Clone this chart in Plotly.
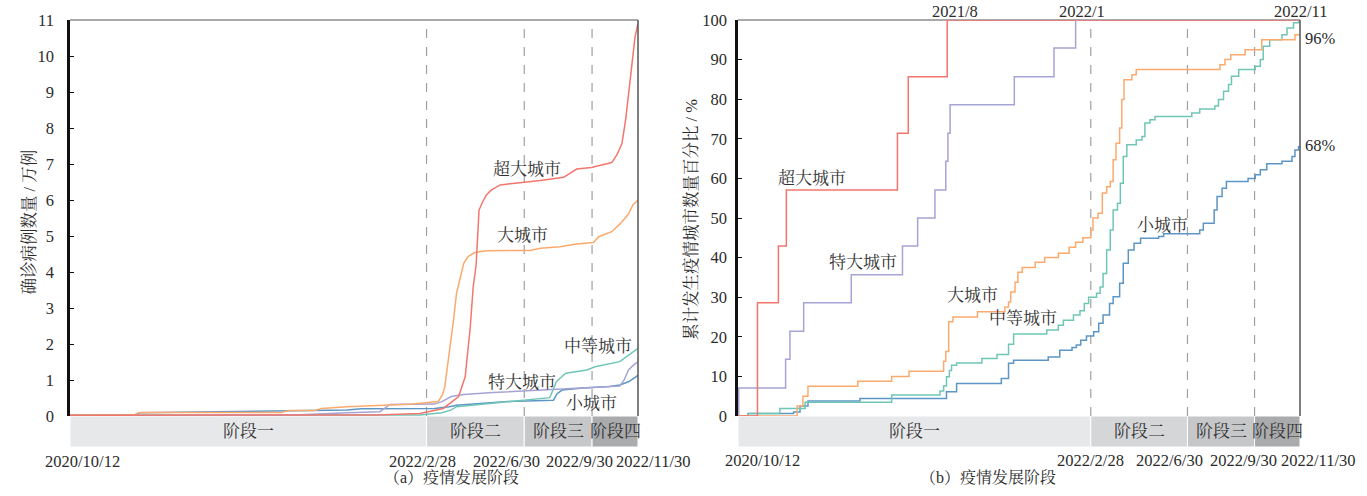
import pandas as pd
import plotly.graph_objects as go

W, H = 1367, 496
START = pd.Timestamp("2020-10-12")
END = pd.Timestamp("2022-11-30")

# ---------------- data ----------------
series_names = ["超大城市", "特大城市", "大城市", "中等城市", "小城市"]
series_colors = ["#F3766D", "#A6A3D5", "#FBAA6E", "#70C6B6", "#5C96C5"]

stage_names = ["阶段一", "阶段二", "阶段三", "阶段四"]
# stage boundaries, days since 2020/10/12 (as placed in the picture)
stage_bounds_day = [0, 489, 623, 716, 779]
stage_tick_labels = ["2020/10/12", "2022/2/28", "2022/6/30", "2022/9/30", "2022/11/30"]
stage_colors = ["#E7E8EA", "#D5D6D8", "#C6C7C9", "#AAABAD"]

# (a) confirmed cases, 10k cases, x = days since 2020/10/12
a_red_day = [0, 420, 480, 512, 533, 542, 549, 553, 557, 561, 565, 571, 578, 590, 617, 645, 677, 685, 695, 715, 743,
             750, 757, 762, 766, 771, 775, 779]
a_red_val = [0.02, 0.03, 0.07, 0.21, 0.54, 1.09, 2.48, 3.59, 4.2, 5.72, 5.91, 6.14, 6.28, 6.42, 6.48, 6.54, 6.63,
             6.74, 6.86, 6.9, 7.04, 7.25, 7.57, 8.22, 8.96, 9.8, 10.54, 10.9]
a_purple_day = [0, 300, 380, 425, 439, 500, 510, 523, 540, 580, 754, 760, 766, 772, 779]
a_purple_val = [0.01, 0.02, 0.09, 0.12, 0.32, 0.33, 0.4, 0.54, 0.6, 0.65, 0.83, 1.0, 1.28, 1.4, 1.51]
a_orange_day = [0, 88, 95, 290, 300, 335, 345, 380, 430, 470, 505, 511, 514, 518, 522, 526, 530, 535, 540, 546,
                555, 571, 631, 645, 672, 695, 718, 725, 743, 755, 766, 772, 779]
a_orange_val = [0.02, 0.02, 0.1, 0.1, 0.15, 0.15, 0.21, 0.26, 0.3, 0.33, 0.4, 0.6, 0.81, 1.4, 2.0, 2.67, 3.4, 3.78,
                4.24, 4.43, 4.54, 4.59, 4.6, 4.66, 4.7, 4.78, 4.82, 4.98, 5.12, 5.35, 5.61, 5.86, 6.0]
a_teal_day = [0, 480, 510, 523, 530, 600, 658, 662, 667, 672, 680, 709, 720, 754, 766, 779]
a_teal_val = [0.02, 0.03, 0.09, 0.17, 0.26, 0.4, 0.51, 0.7, 0.95, 1.05, 1.19, 1.28, 1.37, 1.51, 1.69, 1.88]
a_blue_day = [0, 88, 95, 380, 400, 430, 500, 520, 530, 600, 663, 668, 675, 700, 740, 754, 766, 777, 779]
a_blue_val = [0.02, 0.02, 0.09, 0.17, 0.2, 0.2, 0.21, 0.26, 0.3, 0.4, 0.44, 0.62, 0.72, 0.77, 0.82, 0.86, 0.95,
              1.1, 1.14]

# (b) cumulative share of cities with outbreaks, %
b_red_day = [0, 27, 56, 67, 221, 236, 290, 779]
b_red_val = [0, 28.6, 42.9, 57.1, 71.4, 85.7, 100, 100]
b_purple_day = [0, 1, 66, 72, 91, 157, 228, 249, 273, 288, 291, 294, 383, 438, 468, 779]
b_purple_val = [0, 7.1, 14.3, 21.4, 28.6, 35.7, 42.9, 50.0, 57.1, 64.3, 71.4, 78.6, 85.7, 92.9, 100, 100]
b_orange_day = [0, 82, 90, 97, 166, 213, 237, 285, 288, 292, 298, 332, 370, 375, 378, 384, 388, 394, 412, 425,
                444, 459, 468, 478, 489, 492, 499, 505, 511, 516, 520, 524, 529, 532, 535, 546, 552, 668, 675, 683,
                703, 726, 772, 779]
b_orange_val = [0, 2.5, 5.0, 7.5, 8.8, 10.0, 11.3, 13.8, 16.3, 23.8, 25.0, 26.3, 27.5, 28.8, 31.3, 33.8, 36.3, 37.5,
                38.8, 40.0, 41.1, 42.6, 43.9, 45.0, 47.0, 50.0, 51.2, 56.3, 57.9, 59.2, 64.7, 68.9, 72.7, 79.9, 84.9,
                86.2, 87.5, 88.7, 90.0, 91.2, 92.5, 95.0, 96.3, 96.3]
b_teal_day = [0, 14, 58, 93, 213, 280, 285, 289, 293, 296, 303, 338, 359, 375, 382, 428, 444, 451, 465, 474, 480,
              486, 497, 502, 506, 511, 516, 520, 526, 530, 534, 539, 552, 560, 564, 571, 578, 629, 640, 661, 666,
              673, 680, 684, 694, 717, 724, 728, 737, 754, 761, 770, 777, 779]
b_teal_val = [0, 0.6, 1.9, 3.5, 5.3, 6.3, 7.6, 9.9, 11.5, 12.8, 13.4, 14.5, 15.5, 18.1, 20.7, 21.7, 22.9, 24.2, 25.5,
              26.6, 28.4, 30.0, 31.0, 32.6, 36.0, 41.9, 47.0, 52.0, 53.7, 58.8, 65.5, 68.5, 69.7, 70.6, 74.0, 74.8,
              75.6, 76.5, 77.5, 78.3, 79.9, 82.0, 83.7, 85.8, 87.5, 88.3, 90.0, 93.4, 95.0, 96.3, 98.0, 99.3, 100,
              100]
b_blue_day = [0, 14, 77, 86, 97, 169, 289, 303, 365, 375, 382, 430, 446, 463, 469, 475, 483, 493, 500, 506, 515,
              520, 529, 534, 541, 549, 558, 583, 590, 640, 645, 660, 664, 671, 677, 707, 717, 724, 733, 754, 768,
              772, 777, 779]
b_blue_val = [0, 0.6, 1.0, 2.5, 3.8, 4.4, 6.1, 8.2, 9.5, 13.3, 14.1, 14.9, 16.6, 17.3, 17.9, 19.1, 20.2, 21.3, 23.4,
              25.5, 28.4, 30.1, 33.5, 38.6, 41.9, 43.6, 44.9, 45.3, 46.0, 47.0, 48.7, 52.0, 55.4, 57.5, 59.2, 60.0,
              60.9, 62.2, 63.7, 64.3, 65.5, 67.2, 68.0, 68.0]

yticks_a = list(range(0, 12))
yticks_b = list(range(0, 101, 10))


def to_dates(days):
    return [START + pd.Timedelta(days=d) for d in days]


# ---------------- layout helpers ----------------
SERIF = "Liberation Serif, Noto Serif CJK SC, Noto Sans CJK SC, serif"
TXT = "#2b2b2b"


def px(x):
    return x / W


def py(y):
    return 1 - y / H


PLOT_TOP, PLOT_BOT = 20, 416
BAND_TOP, BAND_BOT = 416, 447
panels = {
    "a": dict(x0=70, x1=638, xa="x", ya="y"),
    "b": dict(x0=738, x1=1300, xa="x2", ya="y2"),
}

fig = go.Figure()

a_series = [(a_red_day, a_red_val), (a_purple_day, a_purple_val), (a_orange_day, a_orange_val),
            (a_teal_day, a_teal_val), (a_blue_day, a_blue_val)]
b_series = [(b_red_day, b_red_val), (b_purple_day, b_purple_val), (b_orange_day, b_orange_val),
            (b_teal_day, b_teal_val), (b_blue_day, b_blue_val)]

# draw order: put red on top
order = [4, 3, 1, 2, 0]
for i in order:
    d, v = a_series[i]
    fig.add_trace(go.Scatter(x=to_dates(d), y=v, mode="lines", name=series_names[i],
                             line=dict(color=series_colors[i], width=1.5), xaxis="x", yaxis="y",
                             showlegend=False, hoverinfo="skip", cliponaxis=False))
for i in order:
    d, v = b_series[i]
    fig.add_trace(go.Scatter(x=to_dates(d), y=v, mode="lines", name=series_names[i],
                             line=dict(color=series_colors[i], width=1.5, shape="hv"), xaxis="x2", yaxis="y2",
                             showlegend=False, hoverinfo="skip", cliponaxis=False))

shapes = []
annotations = []
bounds = to_dates(stage_bounds_day)
for key, p in panels.items():
    xa, ya = p["xa"], p["ya"]
    ymax = yticks_a[-1] if key == "a" else yticks_b[-1]
    # stage bands
    for k in range(4):
        shapes.append(dict(type="rect", xref=xa, yref="paper", x0=bounds[k], x1=bounds[k + 1],
                           y0=py(BAND_BOT), y1=py(BAND_TOP), fillcolor=stage_colors[k],
                           line=dict(color="white", width=1), layer="below"))
        mid = bounds[k] + (bounds[k + 1] - bounds[k]) / 2
        annotations.append(dict(x=mid, xref=xa, y=py((BAND_TOP + BAND_BOT) / 2), yref="paper",
                                text=stage_names[k], showarrow=False, xanchor="center", yanchor="middle",
                                font=dict(family=SERIF, size=17, color="#333")))
    # dashed stage boundaries
    for k in range(1, 4):
        shapes.append(dict(type="line", xref=xa, yref=ya, x0=bounds[k], x1=bounds[k], y0=0, y1=ymax,
                           line=dict(color="#A0A0A0", width=1.2, dash="dash"), layer="below"))
    # top and right border
    shapes.append(dict(type="line", xref="paper", yref="paper", x0=px(p["x0"]), x1=px(p["x1"]),
                       y0=py(PLOT_TOP), y1=py(PLOT_TOP), line=dict(color="#555", width=1.2), layer="below"))
    shapes.append(dict(type="line", xref="paper", yref="paper", x0=px(p["x1"]), x1=px(p["x1"]),
                       y0=py(PLOT_TOP), y1=py(PLOT_BOT), line=dict(color="#555", width=1.5)))

# date tick labels below the bands
a_tick_px = [82, 423, 506, 579, 653]
b_tick_px = [762, 1090, 1169, 1243, 1318]
for lab, xa_ in zip(stage_tick_labels, a_tick_px):
    annotations.append(dict(x=px(xa_), y=py(461), xref="paper", yref="paper", text=lab, showarrow=False,
                            xanchor="center", yanchor="middle", font=dict(family=SERIF, size=16.5, color=TXT)))
for lab, xb_ in zip(stage_tick_labels, b_tick_px):
    annotations.append(dict(x=px(xb_), y=py(460), xref="paper", yref="paper", text=lab, showarrow=False,
                            xanchor="center", yanchor="middle", font=dict(family=SERIF, size=16.5, color=TXT)))

# captions
annotations.append(dict(x=px(382), y=py(488), xref="paper", yref="paper", text="（a）疫情发展阶段",
                        showarrow=False, font=dict(family=SERIF, size=16, color=TXT)))
annotations.append(dict(x=px(1058), y=py(488), xref="paper", yref="paper", text="（b）疫情发展阶段",
                        showarrow=False, font=dict(family=SERIF, size=16, color=TXT)))

# axis titles
annotations.append(dict(x=px(18), y=py(222), xref="paper", yref="paper", text="确诊病例数量 / 万例",
                        textangle=-90, showarrow=False, font=dict(family=SERIF, size=16.5, color=TXT)))
annotations.append(dict(x=px(691), y=py(220), xref="paper", yref="paper", text="累计发生疫情城市数量百分比 / %",
                        textangle=-90, showarrow=False, font=dict(family=SERIF, size=16.5, color=TXT)))

# series labels
a_lab_pos = {"超大城市": (527, 169), "大城市": (522, 235), "中等城市": (598, 346), "特大城市": (522, 382),
             "小城市": (591, 403)}
b_lab_pos = {"超大城市": (812, 178), "特大城市": (863, 262), "大城市": (972, 295), "中等城市": (1023, 318),
             "小城市": (1162, 225)}
for pos in (a_lab_pos, b_lab_pos):
    for name, (lx, ly) in pos.items():
        annotations.append(dict(x=px(lx), y=py(ly), xref="paper", yref="paper", text=name, showarrow=False,
                                xanchor="center", yanchor="middle", font=dict(family=SERIF, size=17, color="#333")))

# top labels of panel b
b_top = [("2021/8", 955, 11, "center"), ("2022/1", 1082, 11, "center"), ("2022/11", 1300, 11, "center"),
         ("96%", 1303, 39, "left"), ("68%", 1303, 145, "left")]
for t, lx, ly, anc in b_top:
    annotations.append(dict(x=px(lx), y=py(ly), xref="paper", yref="paper", text=t, showarrow=False,
                            xanchor=anc, yanchor="middle", font=dict(family=SERIF, size=16.5, color=TXT)))

xcommon = dict(type="date", range=[START, END], showticklabels=False, showgrid=False, zeroline=False,
               showline=False, ticks="", automargin=False)
ycommon = dict(showgrid=False, zeroline=False, showline=True, linecolor="#111", linewidth=2.5, ticks="inside",
               ticklen=4, tickcolor="#111", tickwidth=1, automargin=False,
               tickfont=dict(family=SERIF, size=16.5, color=TXT))

fig.update_layout(
    width=W, height=H, margin=dict(l=0, r=0, t=0, b=0, autoexpand=False),
    paper_bgcolor="white", plot_bgcolor="white",
    xaxis=dict(domain=[px(70), px(638)], anchor="y", **xcommon),
    yaxis=dict(domain=[py(PLOT_BOT), py(PLOT_TOP)], anchor="x", range=[0, 11], tickvals=yticks_a,
               ticklabelstandoff=10, **ycommon),
    xaxis2=dict(domain=[px(738), px(1300)], anchor="y2", **xcommon),
    yaxis2=dict(domain=[py(PLOT_BOT), py(PLOT_TOP)], anchor="x2", range=[0, 100], tickvals=yticks_b,
                ticklabelstandoff=5, **ycommon),
    shapes=shapes, annotations=annotations, showlegend=False,
)

fig.write_html("out.html", config={"displayModeBar": False},
               post_script="document.body.style.margin='0';document.body.style.overflow='hidden';")
